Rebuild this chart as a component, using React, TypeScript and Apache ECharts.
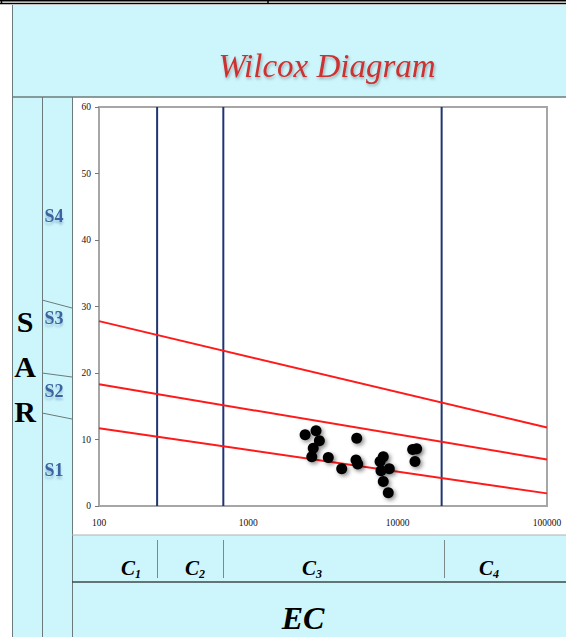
import React, { useEffect, useRef } from "react";
import * as echarts from "echarts";

// Sample points: EC (µS/cm) and SAR
const ecValues = [2400, 2840, 2990, 2720, 2660, 3430, 4220, 5320, 5260, 5400, 8010, 7620, 7730, 8790, 8010, 8650, 12600, 13400, 13060];
const sarValues = [10.7, 11.3, 9.8, 8.7, 7.4, 7.3, 5.6, 10.2, 6.9, 6.3, 7.4, 6.7, 5.3, 5.6, 3.7, 2.0, 8.5, 8.6, 6.7];

// Salinity class boundaries (EC)
const ecBoundaries = [245, 680, 19700];
// Sodium hazard boundary lines: SAR at EC=100 and EC=100000
const sarLineStart = [27.8, 18.3, 11.7];
const sarLineEnd = [11.8, 7.0, 1.9];

const xTicks = [100, 1000, 10000, 100000];
const sLabels = ["S4", "S3", "S2", "S1"];
const cLabels = ["1", "2", "3", "4"];

const BLUE = "#cdf6fc";
const LINE = "#6b7b7b";

export default function App() {
  const ref = useRef<HTMLDivElement>(null);
  useEffect(() => {
    document.body.style.margin = "0";
    const chart = echarts.init(ref.current!, null, { renderer: "svg" });
    const series: any[] = [];
    ecBoundaries.forEach((b) => {
      series.push({
        type: "line",
        data: [[b, 0], [b, 60]],
        symbol: "none",
        lineStyle: { color: "#1f3474", width: 2 },
        z: 3,
      });
    });
    sarLineStart.forEach((s, i) => {
      series.push({
        type: "line",
        data: [[100, s], [100000, sarLineEnd[i]]],
        symbol: "none",
        lineStyle: { color: "#ff1a1a", width: 2 },
        z: 4,
      });
    });
    series.push({
      type: "scatter",
      data: ecValues.map((e, i) => [e, sarValues[i]]),
      symbolSize: 11,
      itemStyle: {
        color: "#000",
        opacity: 1,
        shadowBlur: 4,
        shadowColor: "rgba(0,0,0,0.45)",
        shadowOffsetX: 2,
        shadowOffsetY: 2,
      },
      z: 5,
    });

    const sY = [216, 318, 391, 470];
    const cX = [127, 191, 308, 485];
    const serif = "Liberation Serif";

    const graphic: any[] = [
      // top strip lines
      { type: "line", shape: { x1: 0, y1: 0.5, x2: 566, y2: 0.5 }, style: { stroke: "#000", lineWidth: 2 } },
      { type: "line", shape: { x1: 0, y1: 3.5, x2: 566, y2: 3.5 }, style: { stroke: "#000", lineWidth: 1.5 } },
      { type: "line", shape: { x1: 1.5, y1: 0, x2: 1.5, y2: 4 }, style: { stroke: "#000", lineWidth: 1.5 } },
      { type: "line", shape: { x1: 268, y1: 0, x2: 268, y2: 4 }, style: { stroke: "#000", lineWidth: 1.5 } },
      // blue panels
      { type: "rect", shape: { x: 12, y: 5, width: 554, height: 92 }, style: { fill: BLUE } },
      { type: "rect", shape: { x: 12, y: 97, width: 60, height: 540 }, style: { fill: BLUE } },
      { type: "rect", shape: { x: 72, y: 535, width: 494, height: 102 }, style: { fill: BLUE } },
      // table lines
      { type: "line", shape: { x1: 12.5, y1: 5, x2: 12.5, y2: 637 }, style: { stroke: LINE, lineWidth: 1 } },
      { type: "line", shape: { x1: 42.5, y1: 97, x2: 42.5, y2: 637 }, style: { stroke: LINE, lineWidth: 1 } },
      { type: "line", shape: { x1: 72.5, y1: 97, x2: 72.5, y2: 637 }, style: { stroke: LINE, lineWidth: 1 } },
      { type: "line", shape: { x1: 12, y1: 97, x2: 566, y2: 97 }, style: { stroke: LINE, lineWidth: 1.5 } },
      { type: "line", shape: { x1: 72, y1: 535, x2: 566, y2: 535 }, style: { stroke: "#a9b4b4", lineWidth: 1 } },
      { type: "line", shape: { x1: 72, y1: 582, x2: 566, y2: 582 }, style: { stroke: "#3d4a4a", lineWidth: 1.5 } },
      // S column dividers
      { type: "line", shape: { x1: 42, y1: 300, x2: 72, y2: 308 }, style: { stroke: LINE, lineWidth: 1 } },
      { type: "line", shape: { x1: 42, y1: 373, x2: 72, y2: 377 }, style: { stroke: LINE, lineWidth: 1 } },
      { type: "line", shape: { x1: 42, y1: 413, x2: 72, y2: 419 }, style: { stroke: LINE, lineWidth: 1 } },
      // C row dividers
      ...[157, 223, 444].map((x) => ({
        type: "line",
        shape: { x1: x + 0.5, y1: 540, x2: x + 0.5, y2: 578 },
        style: { stroke: "#7d8888", lineWidth: 1 },
      })),
      // title
      {
        type: "text",
        x: 327,
        y: 66,
        z: 10,
        style: {
          text: "Wilcox Diagram",
          font: `italic 33px "${serif}"`,
          fill: "#cc3030",
          align: "center",
          verticalAlign: "middle",
          textShadowColor: "rgba(0,0,0,0.3)",
          textShadowBlur: 3,
          textShadowOffsetX: 1,
          textShadowOffsetY: 2,
        },
      },
      // SAR letters
      ...["S", "A", "R"].map((t, i) => ({
        type: "text",
        x: 25,
        y: 321 + i * 45,
        z: 10,
        style: {
          text: t,
          font: `bold 30px "${serif}"`,
          fill: "#000",
          align: "center",
          verticalAlign: "middle",
        },
      })),
      // S labels
      ...sLabels.map((t, i) => ({
        type: "text",
        x: 54,
        y: sY[i],
        z: 10,
        style: {
          text: t,
          font: `bold 18px "${serif}"`,
          fill: "#3b64a0",
          align: "center",
          verticalAlign: "middle",
          textShadowColor: "rgba(59,100,160,0.35)",
          textShadowBlur: 2,
          textShadowOffsetY: 3,
        },
      })),
      // C labels
      ...cLabels.map((t, i) => ({
        type: "text",
        x: cX[i] + 4,
        y: 568,
        z: 10,
        style: {
          text: `{c|C}{s|${t}}`,
          align: "center",
          verticalAlign: "middle",
          rich: {
            c: { font: `italic bold 21px "${serif}"`, fill: "#000" },
            s: { font: `italic bold 12px "${serif}"`, fill: "#000", padding: [12, 0, 0, 0] },
          },
        },
      })),
      // EC
      {
        type: "text",
        x: 303,
        y: 618,
        z: 10,
        style: {
          text: "EC",
          font: `italic bold 32px "${serif}"`,
          fill: "#000",
          align: "center",
          verticalAlign: "middle",
        },
      },
    ];

    chart.setOption({
      animation: false,
      backgroundColor: "#fff",
      grid: {
        left: 99,
        top: 107,
        width: 448,
        height: 399,
        show: true,
        borderColor: "#a6a6a6",
        borderWidth: 2,
        backgroundColor: "#fff",
      },
      xAxis: {
        type: "log",
        logBase: 10,
        min: xTicks[0],
        max: xTicks[xTicks.length - 1],
        axisLine: { lineStyle: { color: "#a6a6a6", width: 2 } },
        axisTick: { show: false },
        splitLine: { show: false },
        axisLabel: {
          margin: 12,
          fontFamily: serif,
          fontSize: 9.5,
          color: "#111",
          formatter: (v: number) => String(Math.round(v)),
        },
      },
      yAxis: {
        type: "value",
        min: 0,
        max: 60,
        interval: 10,
        axisLine: { show: true, lineStyle: { color: "#a6a6a6", width: 2 } },
        axisTick: { show: true, length: 4, lineStyle: { color: "#777" } },
        splitLine: { show: false },
        axisLabel: { margin: 8, fontFamily: serif, fontSize: 9.5, color: "#111" },
      },
      graphic,
      series,
    });
    return () => chart.dispose();
  }, []);
  return <div ref={ref} style={{ width: 566, height: 637 }} />;
}
